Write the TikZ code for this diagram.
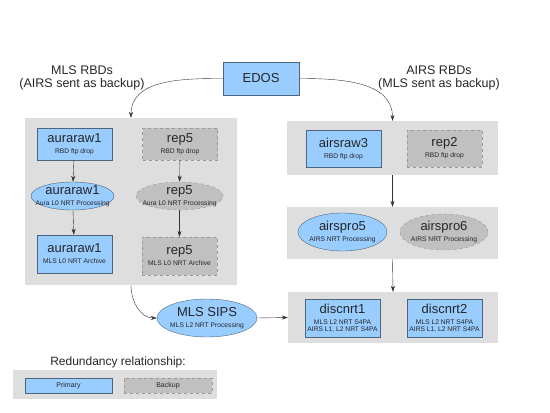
\documentclass[tikz,border=0pt]{standalone}
\usepackage{fontspec}
\setmainfont{Liberation Sans}
\usepackage{xcolor}
\usepackage{tikz}
\usetikzlibrary{shapes.geometric, arrows.meta, positioning}

\definecolor{primfill}{HTML}{99CCFF}
\definecolor{primdraw}{HTML}{4C6680}
\definecolor{backfill}{HTML}{C0C0C0}
\definecolor{backdraw}{HTML}{999999}
\definecolor{grpfill}{HTML}{DEDEDE}

\newcommand{\subsize}{\fontsize{6.7}{7}\selectfont}
\newcommand{\hostlabel}[2]{\fontsize{13}{13}\selectfont #1\\[-1pt]\subsize #2}

\begin{document}
\begin{tikzpicture}[
    x=1pt, y=-1pt,
    group/.style={rectangle, draw=none, fill=grpfill, inner sep=0pt},
    primary/.style={rectangle, draw=primdraw, fill=primfill, minimum width=75pt, inner sep=1pt, align=center, text=black!85},
    backup/.style={rectangle, draw=backdraw, dashed, fill=backfill, minimum width=75pt, inner sep=1pt, align=center, text=black!85},
    primell/.style={ellipse, draw=primdraw, fill=primfill, inner xsep=-10pt, inner ysep=-3pt, align=center, text=black!85},
    backell/.style={ellipse, draw=backdraw, dashed, fill=backfill, inner xsep=-10pt, inner ysep=-3pt, align=center, text=black!85},
    arrow/.style={-{Stealth[length=6pt,width=4pt]}, black!80}
]
\useasboundingbox (0,0) rectangle (550,413);

% group backgrounds
\node[group, minimum width=212pt, minimum height=167pt] (Lgrp) at (131,201.5) {};
\node[group, minimum width=211pt, minimum height=54pt] (Rraw) at (392.5,148) {};
\node[group, minimum width=211pt, minimum height=52pt] (Rpro) at (392.5,233) {};
\node[group, minimum width=210pt, minimum height=51pt] (Rdisc) at (393,317.5) {};

% sources
\node[primary, minimum width=76pt, minimum height=33pt, font=\fontsize{13}{13}\selectfont] (edos) at (261,78.5) {EDOS};
\node[align=center, font=\fontsize{12.5}{13}\selectfont, text=black!85] (mlslbl) at (82,78) {MLS RBDs\\(AIRS sent as backup)};
\node[align=center, font=\fontsize{12.5}{13}\selectfont, text=black!85] (airslbl) at (439,78) {AIRS RBDs\\(MLS sent as backup)};

% MLS chain
\node[primary, minimum height=32pt] (araw) at (74.5,144) {\hostlabel{auraraw1}{RBD ftp drop}};
\node[backup, minimum height=32pt] (rep5a) at (180,144) {\hostlabel{rep5}{RBD ftp drop}};
\node[primell, minimum width=83pt, minimum height=28pt] (aproc) at (72.5,196) {\hostlabel{auraraw1}{Aura L0 NRT Processing}};
\node[backell, minimum width=87pt, minimum height=28pt] (rep5b) at (179.5,196) {\hostlabel{rep5}{Aura L0 NRT Processing}};
\node[primary, minimum height=38pt] (aarch) at (74.5,254) {\hostlabel{auraraw1}{MLS L0 NRT Archive}};
\node[backup, minimum height=38pt] (rep5c) at (179.5,256) {\hostlabel{rep5}{MLS L0 NRT Archive}};
\node[primell, minimum width=100pt, minimum height=38pt] (sips) at (207,318) {\hostlabel{MLS SIPS}{MLS L2 NRT Processing}};

% AIRS chain
\node[primary, minimum height=37pt] (airsraw) at (343.5,148.5) {\hostlabel{airsraw3}{RBD ftp drop}};
\node[backup, minimum height=37pt] (rep2) at (444.5,148.5) {\hostlabel{rep2}{RBD ftp drop}};
\node[primell, minimum width=89pt, minimum height=38pt] (apro5) at (342.5,232) {\hostlabel{airspro5}{AIRS NRT Processing}};
\node[backell, minimum width=88pt, minimum height=36pt] (apro6) at (444,232) {\hostlabel{airspro6}{AIRS NRT Processing}};
\node[primary, minimum height=38pt] (disc1) at (342.5,318) {\hostlabel{discnrt1}{MLS L2 NRT S4PA\\[-4.5pt]\subsize AIRS L1, L2 NRT S4PA}};
\node[primary, minimum height=38pt] (disc2) at (444.5,318) {\hostlabel{discnrt2}{MLS L2 NRT S4PA\\[-4.5pt]\subsize AIRS L1, L2 NRT S4PA}};

% legend
\node[font=\fontsize{12}{13}\selectfont, text=black!85] (legtitle) at (118,362) {Redundancy relationship:};
\node[group, minimum width=204pt, minimum height=29pt] (legbg) at (115,384.5) {};
\node[primary, minimum width=87pt, minimum height=15pt, font=\fontsize{7}{8}\selectfont] (legprim) at (68.5,385.5) {Primary};
\node[backup, minimum width=88pt, minimum height=15pt, font=\fontsize{7}{8}\selectfont] (legback) at (168,385.5) {Backup};

% connectors
\draw[arrow] (edos.west) to[out=180, in=90] (Lgrp.north);
\draw[arrow] (edos.east) to[out=0, in=90] (Rraw.north);
\draw[arrow] (araw) -- (aproc);
\draw[arrow] (aproc) -- (aarch);
\draw[arrow] (rep5a) -- (rep5b);
\draw[arrow] (rep5b) -- (rep5c);
\draw[arrow] (Lgrp.south) to[out=-90, in=180] (sips.west);
\draw[arrow] (sips.east) -- (Rdisc.west);
\draw[arrow] (Rraw.south) -- (Rpro.north);
\draw[arrow] (Rpro.south) -- (Rdisc.north);
\end{tikzpicture}
\end{document}
